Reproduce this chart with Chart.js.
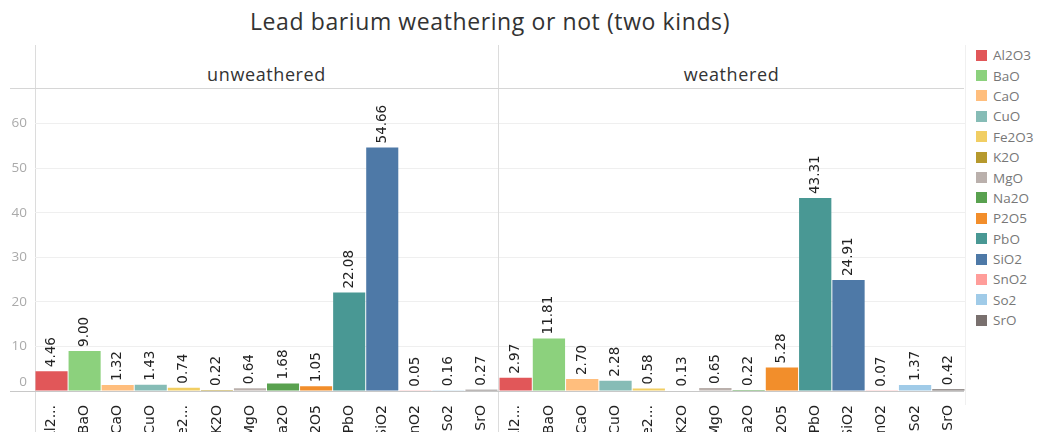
<!DOCTYPE html>
<html>
<head>
<meta charset="utf-8">
<script src="https://cdn.jsdelivr.net/npm/chart.js@4.4.0/dist/chart.umd.min.js"></script>
<style>
  html, body { margin: 0; padding: 0; background: #fff; width: 1038px; height: 432px; overflow: hidden; }
  #wrap { position: relative; width: 1038px; height: 432px; font-family: 'Open Sans', sans-serif; }
  .abs { position: absolute; }
  #title { left: 0; width: 980px; top: 5px; text-align: center; font-size: 23px; letter-spacing: 0.6px; color: #333; }
  .facet { top: 62px; font-size: 18px; letter-spacing: 0.6px; color: #333; text-align: center; }
  .vline { width: 1px; background: #dcdcdc; }
  .hline { height: 1px; background: #d6d6d6; }
  .chartbox { top: 88px; height: 344px; }
  #legend { left: 976px; top: 45px; }
  .item { height: 20.4px; display: flex; align-items: center; font-size: 13.5px; color: #777; white-space: nowrap; }
  .sw { width: 11px; height: 11px; margin-right: 6px; flex: none; }
</style>
</head>
<body>
<div id="wrap">
  <div id="title" class="abs">Lead barium weathering or not (two kinds)</div>

  <div class="abs vline" style="left:35px; top:45px; height:387px;"></div>
  <div class="abs vline" style="left:498px; top:45px; height:387px;"></div>
  <div class="abs vline" style="left:965px; top:45px; height:360px; background:#f0f0f0;"></div>
  <div class="abs hline" style="left:10px; top:88px; width:954px;"></div>
  <div class="abs hline" style="left:10px; top:391px; width:954px; background:#c8c8c8;"></div>

  <div class="abs facet" style="left:35px; width:463px;">unweathered</div>
  <div class="abs facet" style="left:498px; width:467px;">weathered</div>

  <div class="abs chartbox" style="left:0; width:498px;"><canvas id="c1"></canvas></div>
  <div class="abs chartbox" style="left:498px; width:467px;"><canvas id="c2"></canvas></div>

  <div id="legend" class="abs"></div>
</div>

<script>
// Oxide components (full names for the legend, shortened tick labels for the axis)
const components = ['Al2O3', 'BaO', 'CaO', 'CuO', 'Fe2O3', 'K2O', 'MgO', 'Na2O', 'P2O5', 'PbO', 'SiO2', 'SnO2', 'So2', 'SrO'];
const tickLabels = ['Al2...', 'BaO', 'CaO', 'CuO', 'Fe2...', 'K2O', 'MgO', 'Na2O', 'P2O5', 'PbO', 'SiO2', 'SnO2', 'So2', 'SrO'];

// Mean content (%) per component
const unweathered = [4.46, 9.00, 1.32, 1.43, 0.74, 0.22, 0.64, 1.68, 1.05, 22.08, 54.66, 0.05, 0.16, 0.27];
const weathered   = [2.97, 11.81, 2.70, 2.28, 0.58, 0.13, 0.65, 0.22, 5.28, 43.31, 24.91, 0.07, 1.37, 0.42];

const yTicks = [0, 10, 20, 30, 40, 50, 60];

const colors = ['#E15759', '#8CD17D', '#FFBE7D', '#86BCB6', '#F1CE63', '#B6992D', '#BAB0AC',
                '#59A14F', '#F28E2B', '#499894', '#4E79A7', '#FF9D9A', '#A0CBE8', '#79706E'];

// Legend
const legend = document.getElementById('legend');
components.forEach((name, i) => {
  const row = document.createElement('div');
  row.className = 'item';
  row.innerHTML = '<span class="sw" style="background:' + colors[i] + '"></span>' + name;
  legend.appendChild(row);
});

// Rotated value labels above each bar
const valueLabels = {
  id: 'valueLabels',
  afterDatasetsDraw(chart) {
    const ctx = chart.ctx;
    const meta = chart.getDatasetMeta(0);
    const data = chart.data.datasets[0].data;
    ctx.save();
    ctx.font = '13.5px "DejaVu Sans"';
    ctx.fillStyle = '#222';
    ctx.textAlign = 'left';
    ctx.textBaseline = 'middle';
    meta.data.forEach((bar, i) => {
      ctx.save();
      ctx.translate(bar.x, bar.y - 4);
      ctx.rotate(-Math.PI / 2);
      ctx.fillText(data[i].toFixed(2), 0, 0);
      ctx.restore();
    });
    ctx.restore();
  }
};

// The zero label sits a little above its baseline
const zeroLabel = {
  id: 'zeroLabel',
  afterDraw(chart) {
    const y = chart.scales.y;
    if (!y.options.ticks.display) return;
    const ctx = chart.ctx;
    ctx.save();
    ctx.font = '13.5px "Open Sans"';
    ctx.fillStyle = '#aaa';
    ctx.textAlign = 'right';
    ctx.textBaseline = 'middle';
    ctx.fillText('0', y.right - 8, y.getPixelForValue(0) - 9);
    ctx.restore();
  }
};

function makeChart(id, values, showAxis) {
  return new Chart(document.getElementById(id), {
    type: 'bar',
    data: {
      labels: tickLabels,
      datasets: [{
        data: values,
        backgroundColor: colors,
        borderWidth: 0,
        barPercentage: 0.97,
        categoryPercentage: 1.0
      }]
    },
    options: {
      responsive: true,
      maintainAspectRatio: false,
      animation: false,
      events: [],
      layout: { padding: 0 },
      plugins: { legend: { display: false }, tooltip: { enabled: false } },
      scales: {
        x: {
          grid: { display: false },
          border: { display: false },
          ticks: {
            autoSkip: false,
            minRotation: 90,
            maxRotation: 90,
            padding: 6,
            color: '#222',
            font: { family: 'DejaVu Sans', size: 14 }
          },
          afterFit(scale) {
            scale.height = 41;
            scale.paddingLeft = 0;
            scale.paddingRight = 0;
          }
        },
        y: {
          min: 0,
          max: 68,
          afterBuildTicks(scale) {
            scale.ticks = yTicks.map(v => ({ value: v }));
          },
          grid: {
            color: ctx => (ctx.tick && ctx.tick.value === 0) ? 'rgba(0,0,0,0)' : '#efefef',
            drawTicks: false
          },
          border: { display: false },
          ticks: {
            display: showAxis,
            padding: 8,
            color: '#aaa',
            font: { family: 'Open Sans', size: 13.5 },
            callback: v => (v === 0 ? '' : v)
          },
          afterFit(scale) {
            scale.width = showAxis ? 35 : 1;
            scale.paddingTop = 0;
            scale.paddingBottom = 0;
          }
        }
      }
    },
    plugins: [valueLabels, zeroLabel]
  });
}

makeChart('c1', unweathered, true);
makeChart('c2', weathered, false);
</script>
</body>
</html>
